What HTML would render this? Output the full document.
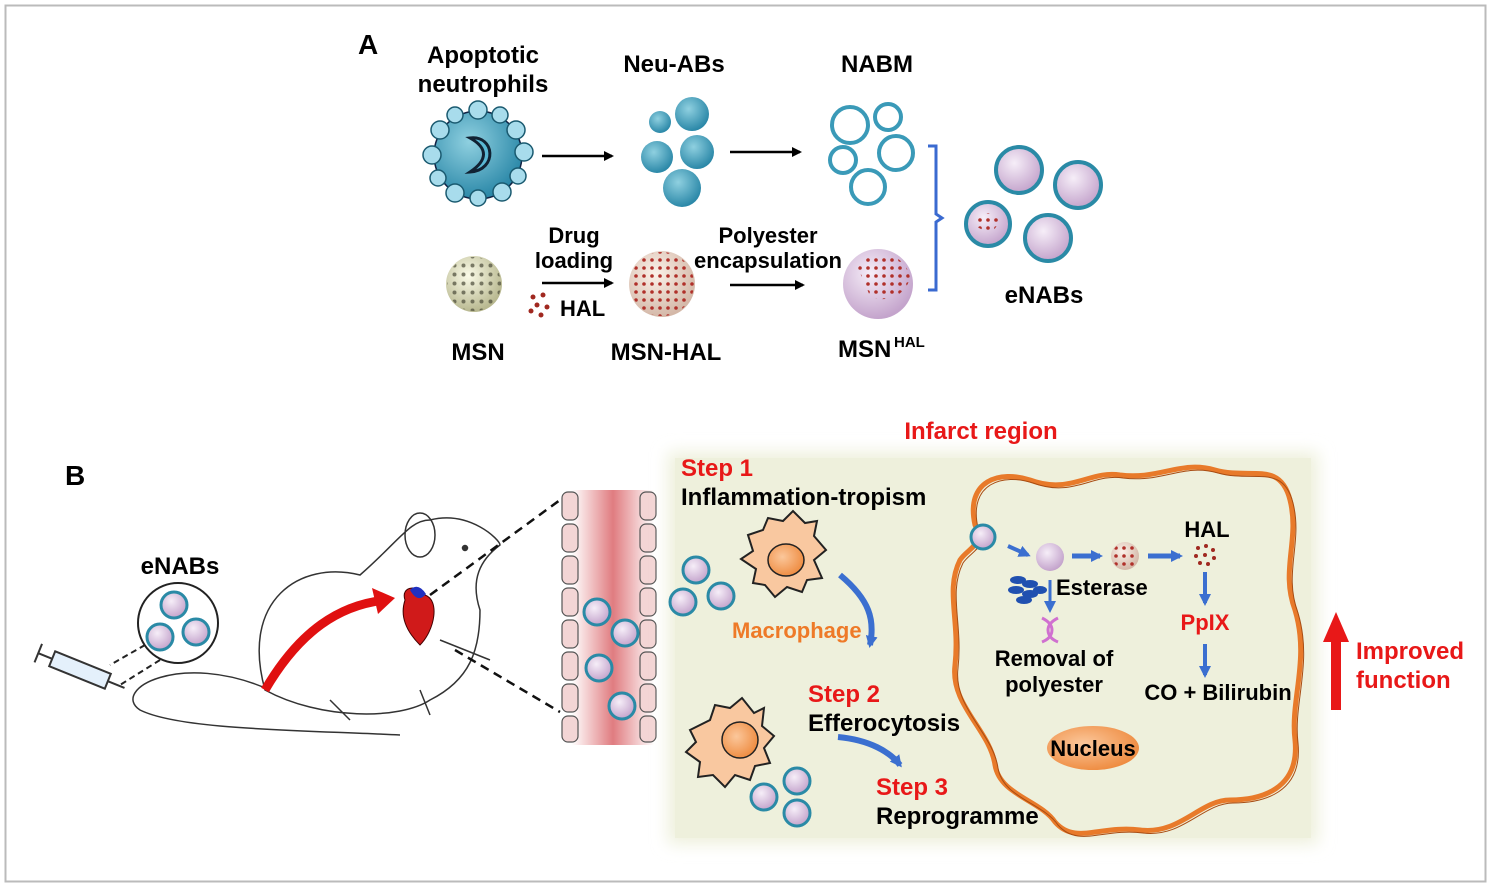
<!DOCTYPE html>
<html><head><meta charset="utf-8"><style>
html,body{margin:0;padding:0;background:#fff}
svg{display:block}
text{font-family:"Liberation Sans",Arial,sans-serif;font-weight:bold}
</style></head><body>
<svg width="1491" height="886" viewBox="0 0 1491 886" xmlns="http://www.w3.org/2000/svg">
<defs>
<radialGradient id="pk" cx="40%" cy="35%" r="65%"><stop offset="0" stop-color="#f6eef8"/><stop offset="1" stop-color="#c4a4cc"/></radialGradient>
<radialGradient id="bl" cx="40%" cy="35%" r="65%"><stop offset="0" stop-color="#8fd0e0"/><stop offset="1" stop-color="#2b88a8"/></radialGradient>
<radialGradient id="msn" cx="40%" cy="35%" r="65%"><stop offset="0" stop-color="#fbfbe8"/><stop offset="1" stop-color="#b8b890"/></radialGradient>
<radialGradient id="msh" cx="40%" cy="35%" r="65%"><stop offset="0" stop-color="#fbf2ea"/><stop offset="1" stop-color="#d4b8a8"/></radialGradient>
<radialGradient id="or" cx="40%" cy="40%" r="65%"><stop offset="0" stop-color="#fbc79b"/><stop offset="1" stop-color="#ee8a3e"/></radialGradient>
<linearGradient id="vess" x1="0" x2="1"><stop offset="0" stop-color="#fff"/><stop offset=".5" stop-color="#e07c80"/><stop offset="1" stop-color="#fff"/></linearGradient>
<pattern id="dots" width="8" height="8" patternUnits="userSpaceOnUse"><circle cx="4" cy="4" r="1.8" fill="#b0302a"/></pattern>
<pattern id="holes" width="9" height="9" patternUnits="userSpaceOnUse"><circle cx="4.5" cy="4.5" r="2" fill="#4a4a38"/></pattern>
<marker id="ah" markerWidth="10" markerHeight="10" refX="8" refY="5" orient="auto" markerUnits="userSpaceOnUse"><path d="M0,0 L10,5 L0,10z" fill="#000"/></marker>
<marker id="bh" markerWidth="12" markerHeight="12" refX="9" refY="6" orient="auto" markerUnits="userSpaceOnUse"><path d="M0,0 L12,6 L0,12z" fill="#3b6fd0"/></marker>
<filter id="blur"><feGaussianBlur stdDeviation="8"/></filter>
</defs>
<rect x="5.5" y="5.5" width="1480" height="876" fill="#fff" stroke="#bbb" stroke-width="2"/>

<!-- A -->
<text x="358" y="54" font-size="28">A</text>
<text x="483" y="63" font-size="24" text-anchor="middle">Apoptotic</text>
<text x="483" y="92" font-size="24" text-anchor="middle">neutrophils</text>
<text x="674" y="72" font-size="24" text-anchor="middle">Neu-ABs</text>
<text x="877" y="72" font-size="24" text-anchor="middle">NABM</text>
<g fill="#a8dcec" stroke="#1a5a70" stroke-width="1.5">
<circle cx="478" cy="155" r="44" fill="url(#bl)" stroke="#124"/>
<circle cx="440" cy="130" r="9"/><circle cx="455" cy="115" r="8"/><circle cx="478" cy="110" r="9"/><circle cx="500" cy="115" r="8"/><circle cx="516" cy="130" r="9"/><circle cx="524" cy="152" r="9"/><circle cx="518" cy="176" r="8"/><circle cx="502" cy="192" r="9"/><circle cx="478" cy="198" r="8"/><circle cx="455" cy="193" r="9"/><circle cx="438" cy="178" r="8"/><circle cx="432" cy="155" r="9"/>
</g>
<path d="M470,138 C495,135 498,170 470,172 C488,160 488,148 470,138z" fill="#5ab8d4" stroke="#123" stroke-width="3"/>
<line x1="542" y1="156" x2="612" y2="156" stroke="#000" stroke-width="2.5" marker-end="url(#ah)"/>
<g fill="url(#bl)"><circle cx="660" cy="122" r="11"/><circle cx="692" cy="114" r="17"/><circle cx="657" cy="157" r="16"/><circle cx="697" cy="152" r="17"/><circle cx="682" cy="188" r="19"/></g>
<line x1="730" y1="152" x2="800" y2="152" stroke="#000" stroke-width="2.5" marker-end="url(#ah)"/>
<g fill="none" stroke="#3a9ab8" stroke-width="4"><circle cx="850" cy="125" r="18"/><circle cx="888" cy="117" r="13"/><circle cx="843" cy="160" r="13"/><circle cx="896" cy="153" r="17"/><circle cx="868" cy="187" r="17"/></g>
<circle cx="474" cy="284" r="28" fill="url(#msn)"/><circle cx="474" cy="284" r="27" fill="url(#holes)" opacity=".7"/>
<text x="574" y="243" font-size="22" text-anchor="middle">Drug</text>
<text x="574" y="268" font-size="22" text-anchor="middle">loading</text>
<line x1="542" y1="283" x2="612" y2="283" stroke="#000" stroke-width="2.5" marker-end="url(#ah)"/>
<g fill="#a02820"><circle cx="533" cy="297" r="2.5"/><circle cx="543" cy="295" r="2.5"/><circle cx="537" cy="305" r="2.5"/><circle cx="547" cy="307" r="2.5"/><circle cx="531" cy="311" r="2.5"/><circle cx="541" cy="315" r="2.5"/></g>
<text x="560" y="316" font-size="22">HAL</text>
<circle cx="662" cy="284" r="33" fill="url(#msh)"/><circle cx="662" cy="284" r="32" fill="url(#dots)"/>
<text x="768" y="243" font-size="22" text-anchor="middle">Polyester</text>
<text x="768" y="268" font-size="22" text-anchor="middle">encapsulation</text>
<line x1="730" y1="285" x2="803" y2="285" stroke="#000" stroke-width="2.5" marker-end="url(#ah)"/>
<circle cx="878" cy="284" r="35" fill="url(#pk)"/><path d="M858,268 a28,28 0 0 1 52,10 a28,28 0 0 1 -40,18z" fill="url(#dots)"/>
<text x="478" y="360" font-size="24" text-anchor="middle">MSN</text>
<text x="666" y="360" font-size="24" text-anchor="middle">MSN-HAL</text>
<text x="838" y="357" font-size="24">MSN</text><text x="894" y="347" font-size="15">HAL</text>
<path d="M928,146 h8 v68 l6,4 l-6,4 v68 h-8" fill="none" stroke="#3a6ad0" stroke-width="3"/>
<g stroke="#2a8aa6" stroke-width="4"><circle cx="1019" cy="170" r="23" fill="url(#pk)"/><circle cx="1078" cy="185" r="23" fill="url(#pk)"/><circle cx="988" cy="224" r="22" fill="url(#pk)"/><circle cx="1048" cy="238" r="23" fill="url(#pk)"/></g>
<path d="M975,226 a14,14 0 0 1 26,-6 l-10,14z" fill="url(#dots)"/>
<text x="1044" y="303" font-size="24" text-anchor="middle">eNABs</text>

<!-- B -->
<text x="65" y="485" font-size="28">B</text>
<text x="180" y="574" font-size="24" text-anchor="middle">eNABs</text>
<circle cx="178" cy="623" r="40" fill="#fff" stroke="#222" stroke-width="2"/>
<g stroke="#2a8aa6" stroke-width="3" fill="url(#pk)"><circle cx="174" cy="605" r="13"/><circle cx="160" cy="637" r="13"/><circle cx="196" cy="632" r="13"/></g>
<line x1="145" y1="645" x2="110" y2="665" stroke="#222" stroke-width="2" stroke-dasharray="6,4"/>
<line x1="160" y1="660" x2="120" y2="685" stroke="#222" stroke-width="2" stroke-dasharray="6,4"/>
<g transform="rotate(22 80 670)"><rect x="50" y="662" width="60" height="16" fill="#e4f0fb" stroke="#333" stroke-width="2"/><line x1="35" y1="670" x2="50" y2="670" stroke="#333" stroke-width="2"/><line x1="35" y1="660" x2="35" y2="680" stroke="#333" stroke-width="2"/><line x1="110" y1="670" x2="128" y2="670" stroke="#333" stroke-width="2"/></g>
<g fill="none" stroke="#333" stroke-width="1.5">
<path d="M265,690 C240,600 300,560 360,575 C400,540 410,520 430,520 C470,510 500,540 500,545 C480,560 470,580 480,610 C480,650 470,680 430,700 C400,720 320,720 265,690z"/>
<path d="M270,690 C180,650 110,690 140,710 C180,730 300,730 400,735"/>
<ellipse cx="420" cy="535" rx="15" ry="22"/><circle cx="465" cy="548" r="2.5" fill="#333"/>
<path d="M440,640 l50,20 M330,700 l20,20 M420,690 l10,25"/>
</g>
<path d="M265,690 C300,630 340,605 385,600" fill="none" stroke="#e01010" stroke-width="9"/>
<path d="M372,588 L395,598 L378,614z" fill="#e01010"/>
<path d="M405,600 C400,585 420,585 425,595 C440,600 435,630 420,645 C405,630 400,615 405,600z" fill="#d01a1a" stroke="#400" stroke-width="1"/>
<path d="M410,590 q8,-8 16,4 q-8,10 -16,-4z" fill="#2030c0"/>
<line x1="430" y1="595" x2="560" y2="500" stroke="#111" stroke-width="2.5" stroke-dasharray="9,6"/>
<line x1="455" y1="650" x2="560" y2="712" stroke="#111" stroke-width="2.5" stroke-dasharray="9,6"/>
<rect x="572" y="490" width="82" height="255" fill="url(#vess)"/>
<g fill="#f3d5d5" stroke="#555" stroke-width="1.2">
<rect x="562" y="492" width="16" height="28" rx="6"/><rect x="562" y="524" width="16" height="28" rx="6"/><rect x="562" y="556" width="16" height="28" rx="6"/><rect x="562" y="588" width="16" height="28" rx="6"/><rect x="562" y="620" width="16" height="28" rx="6"/><rect x="562" y="652" width="16" height="28" rx="6"/><rect x="562" y="684" width="16" height="28" rx="6"/><rect x="562" y="716" width="16" height="26" rx="6"/>
<rect x="640" y="492" width="16" height="28" rx="6"/><rect x="640" y="524" width="16" height="28" rx="6"/><rect x="640" y="556" width="16" height="28" rx="6"/><rect x="640" y="588" width="16" height="28" rx="6"/><rect x="640" y="620" width="16" height="28" rx="6"/><rect x="640" y="652" width="16" height="28" rx="6"/><rect x="640" y="684" width="16" height="28" rx="6"/><rect x="640" y="716" width="16" height="26" rx="6"/>
</g>
<g stroke="#2a8aa6" stroke-width="3" fill="url(#pk)"><circle cx="597" cy="612" r="13"/><circle cx="625" cy="633" r="13"/><circle cx="599" cy="668" r="13"/><circle cx="622" cy="706" r="13"/></g>
<rect x="668" y="452" width="650" height="392" fill="#eef0dc" filter="url(#blur)"/>
<rect x="675" y="458" width="636" height="380" fill="#eef0dc"/>
<text x="981" y="439" font-size="24" fill="#e81818" text-anchor="middle">Infarct region</text>
<text x="681" y="476" font-size="24" fill="#e81818">Step 1</text>
<text x="681" y="505" font-size="24">Inflammation-tropism</text>
<path d="M748,535 l15,-5 l5,-12 l15,3 l10,-10 l12,12 l12,-2 l-3,15 l12,14 l-12,10 l8,18 l-15,2 l-5,12 l-15,-5 l-12,10 l-10,-12 l-12,-2 l3,-14 l-15,-10 l12,-8z" fill="#f9c8a0" stroke="#222" stroke-width="2"/>
<ellipse cx="786" cy="560" rx="18" ry="16" fill="url(#or)" stroke="#222" stroke-width="1.5"/>
<g stroke="#2a8aa6" stroke-width="3" fill="url(#pk)"><circle cx="696" cy="570" r="13"/><circle cx="683" cy="602" r="13"/><circle cx="721" cy="596" r="13"/></g>
<text x="732" y="638" font-size="22" fill="#ee7a28">Macrophage</text>
<path d="M840,575 C870,600 875,620 870,645" fill="none" stroke="#3b6fd0" stroke-width="6" marker-end="url(#bh)"/>
<path d="M690,730 l20,-10 l5,-15 l15,3 l12,-10 l12,15 l10,-5 l-2,18 l12,10 l-10,12 l6,15 l-15,3 l-5,14 l-15,-5 l-10,12 l-12,-12 l-15,2 l2,-15 l-14,-10 l10,-10z" fill="#f9c8a0" stroke="#222" stroke-width="2"/>
<ellipse cx="740" cy="740" rx="18" ry="18" fill="url(#or)" stroke="#222" stroke-width="1.5"/>
<g stroke="#2a8aa6" stroke-width="3" fill="url(#pk)"><circle cx="797" cy="781" r="13"/><circle cx="764" cy="797" r="13"/><circle cx="797" cy="813" r="13"/></g>
<text x="808" y="702" font-size="24" fill="#e81818">Step 2</text>
<text x="808" y="731" font-size="24">Efferocytosis</text>
<path d="M838,737 C870,740 890,752 900,765" fill="none" stroke="#3b6fd0" stroke-width="6" marker-end="url(#bh)"/>
<text x="876" y="795" font-size="24" fill="#e81818">Step 3</text>
<text x="876" y="824" font-size="24">Reprogramme</text>
<g fill="none">
<path d="M975,525 C965,480 1000,470 1030,480 C1070,495 1090,470 1120,475 C1160,480 1180,460 1215,470 C1250,480 1280,460 1290,500 C1300,540 1280,570 1295,610 C1310,660 1290,700 1295,740 C1300,790 1260,800 1230,800 C1200,800 1180,835 1140,830 C1100,825 1075,845 1055,822 C1040,800 1000,795 995,765 C990,730 950,705 955,665 C960,620 945,590 960,560 C968,548 985,545 975,525z" stroke="#e87a2a" stroke-width="5"/>
<path d="M975,525 C965,480 1000,470 1030,480 C1070,495 1090,470 1120,475 C1160,480 1180,460 1215,470 C1250,480 1280,460 1290,500 C1300,540 1280,570 1295,610 C1310,660 1290,700 1295,740 C1300,790 1260,800 1230,800 C1200,800 1180,835 1140,830 C1100,825 1075,845 1055,822 C1040,800 1000,795 995,765 C990,730 950,705 955,665 C960,620 945,590 960,560 C968,548 985,545 975,525z" stroke="#a84c12" stroke-width="1" transform="translate(3,3)"/>
</g>
<circle cx="983" cy="537" r="12" fill="url(#pk)" stroke="#2a8aa6" stroke-width="3"/>
<line x1="1008" y1="546" x2="1028" y2="555" stroke="#3b6fd0" stroke-width="4" marker-end="url(#bh)"/>
<circle cx="1050" cy="557" r="14" fill="url(#pk)"/>
<line x1="1072" y1="556" x2="1100" y2="556" stroke="#3b6fd0" stroke-width="5" marker-end="url(#bh)"/>
<circle cx="1125" cy="556" r="14" fill="url(#msh)"/><circle cx="1125" cy="556" r="13" fill="url(#dots)"/>
<line x1="1148" y1="556" x2="1180" y2="556" stroke="#3b6fd0" stroke-width="5" marker-end="url(#bh)"/>
<text x="1207" y="537" font-size="22" text-anchor="middle">HAL</text>
<g fill="#a02820"><circle cx="1198" cy="548" r="2"/><circle cx="1206" cy="546" r="2"/><circle cx="1213" cy="550" r="2"/><circle cx="1196" cy="556" r="2"/><circle cx="1205" cy="555" r="2"/><circle cx="1214" cy="558" r="2"/><circle cx="1200" cy="563" r="2"/><circle cx="1208" cy="564" r="2"/></g>
<g fill="#2050b0"><ellipse cx="1018" cy="580" rx="8" ry="4"/><ellipse cx="1030" cy="584" rx="8" ry="4"/><ellipse cx="1016" cy="590" rx="8" ry="4"/><ellipse cx="1030" cy="594" rx="8" ry="4"/><ellipse cx="1040" cy="590" rx="7" ry="4"/><ellipse cx="1024" cy="600" rx="8" ry="4"/></g>
<text x="1056" y="595" font-size="22">Esterase</text>
<line x1="1050" y1="580" x2="1050" y2="610" stroke="#3b6fd0" stroke-width="3" marker-end="url(#bh)"/>
<path d="M1042,618 q10,5 10,12 q0,8 -10,12 M1058,618 q-10,5 -10,12 q0,8 10,12" fill="none" stroke="#d070d0" stroke-width="3"/>
<text x="1054" y="666" font-size="22" text-anchor="middle">Removal of</text>
<text x="1054" y="692" font-size="22" text-anchor="middle">polyester</text>
<line x1="1205" y1="572" x2="1205" y2="603" stroke="#3b6fd0" stroke-width="4" marker-end="url(#bh)"/>
<text x="1205" y="630" font-size="22" fill="#e81818" text-anchor="middle">PpIX</text>
<line x1="1205" y1="644" x2="1205" y2="675" stroke="#3b6fd0" stroke-width="4" marker-end="url(#bh)"/>
<text x="1218" y="700" font-size="22" text-anchor="middle">CO + Bilirubin</text>
<ellipse cx="1093" cy="748" rx="46" ry="22" fill="url(#or)"/>
<text x="1093" y="756" font-size="22" text-anchor="middle">Nucleus</text>
<rect x="1331" y="640" width="10" height="70" fill="#e81818"/>
<path d="M1323,642 L1336,612 L1349,642z" fill="#e81818"/>
<text x="1356" y="659" font-size="24" fill="#e81818">Improved</text>
<text x="1356" y="688" font-size="24" fill="#e81818">function</text>
</svg>
</body></html>
